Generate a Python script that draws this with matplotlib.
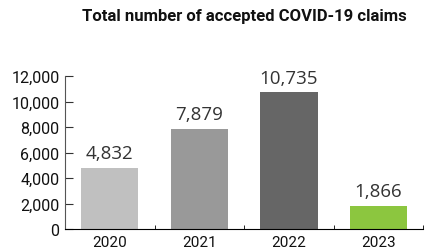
import matplotlib
matplotlib.use("Agg")
from matplotlib import pyplot as plt
from matplotlib.ticker import FuncFormatter

years = ["2020", "2021", "2022", "2023"]
claims = [4832, 7879, 10735, 1866]
colors = ["#c0c0c0", "#999999", "#666666", "#8cc63f"]

plt.rcParams["font.family"] = ["Roboto", "DejaVu Sans"]

fig = plt.figure(figsize=(4.29, 2.53), dpi=100)
ax = fig.add_axes([0.1515, 0.089, 0.835, 0.607])

x = range(len(years))
bars = ax.bar(x, claims, width=0.64, color=colors)

for i, v in enumerate(claims):
    ax.annotate(f"{v:,}", (i, v), xytext=(0, 4), textcoords="offset points",
                ha="center", va="bottom", fontsize=13.5, color="#333333",
                family=["Open Sans", "DejaVu Sans"])

ax.set_xlim(-0.5, 3.5)
ax.set_ylim(0, 12000)
ax.set_yticks(range(0, 12001, 2000))
ax.yaxis.set_major_formatter(FuncFormatter(lambda v, p: f"{int(v):,}"))
ax.set_xticks(list(x))
ax.set_xticklabels(years)
ax.set_xticks([0.5, 1.5, 2.5, 3.5], minor=True)

ax.spines["top"].set_visible(False)
ax.spines["right"].set_visible(False)
ax.spines["left"].set_color("#555555")
ax.spines["bottom"].set_color("black")

ax.tick_params(axis="y", direction="in", length=6, labelsize=11.5, pad=4, color="#333333",
               labelcolor="#111111")
ax.tick_params(axis="x", which="major", length=0, labelsize=11, pad=4, labelcolor="#111111")
ax.tick_params(axis="x", which="minor", direction="in", length=3, color="black")

fig.text(0.569, 0.935, "Total number of accepted COVID-19 claims", ha="center", va="center",
         fontsize=12, fontweight="bold", color="#111111")

fig.savefig("out.png", dpi=100)
